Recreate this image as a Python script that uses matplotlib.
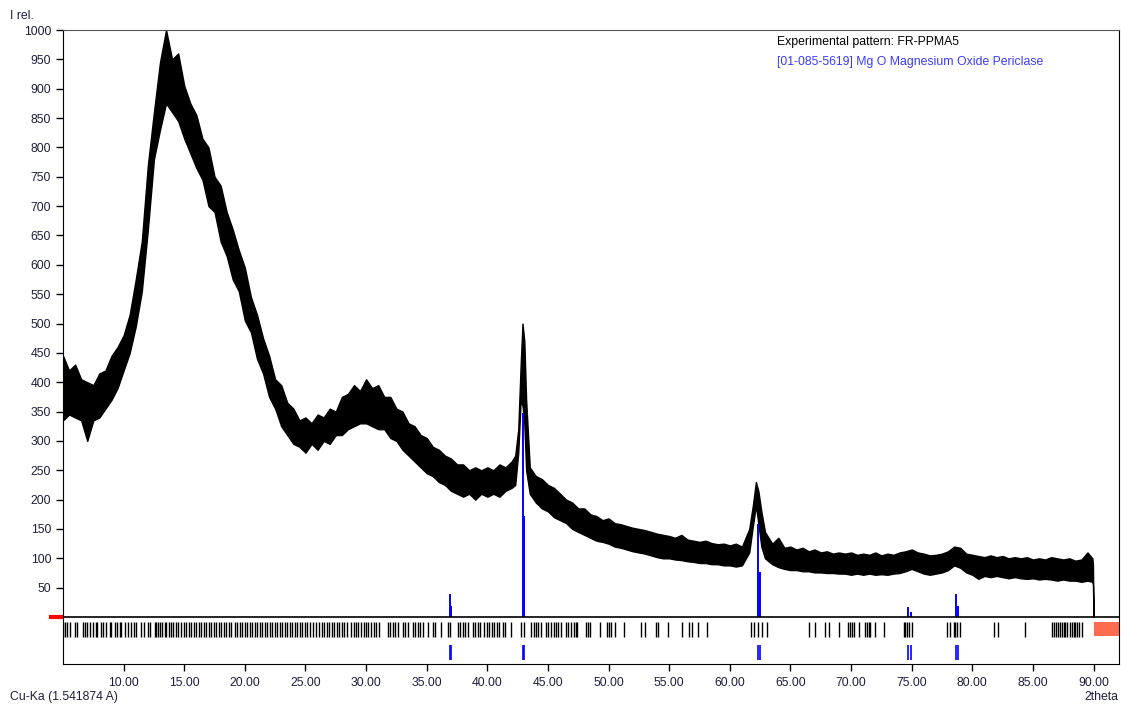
import matplotlib
matplotlib.use('Agg')
import matplotlib.pyplot as plt
from matplotlib.patches import Rectangle
from matplotlib.transforms import blended_transform_factory

two_theta = [5.0, 5.5, 6.0, 6.5, 7.0, 7.5, 8.0, 8.5, 9.0, 9.5,
             10.0, 10.5, 11.0, 11.5, 12.0, 12.5, 13.0, 13.5, 14.0, 14.5,
             15.0, 15.5, 16.0, 16.5, 17.0, 17.5, 18.0, 18.5, 19.0, 19.5,
             20.0, 20.5, 21.0, 21.5, 22.0, 22.5, 23.0, 23.5, 24.0, 24.5,
             25.0, 25.5, 26.0, 26.5, 27.0, 27.5, 28.0, 28.5, 29.0, 29.5,
             30.0, 30.5, 31.0, 31.5, 32.0, 32.5, 33.0, 33.5, 34.0, 34.5,
             35.0, 35.5, 36.0, 36.5, 37.0, 37.5, 38.0, 38.5, 39.0, 39.5,
             40.0, 40.5, 41.0, 41.5, 42.0,
             42.3, 42.55, 42.75, 42.9, 43.05, 43.2, 43.5,
             44.0, 44.5, 45.0, 45.5, 46.0, 46.5, 47.0, 47.5, 48.0, 48.5,
             49.0, 49.5, 50.0, 50.5, 51.0, 51.5, 52.0, 52.5, 53.0, 53.5,
             54.0, 54.5, 55.0, 55.5, 56.0, 56.5, 57.0, 57.5, 58.0, 58.5,
             59.0, 59.5, 60.0, 60.5, 61.0,
             61.6, 61.9, 62.15, 62.35, 62.6, 62.9,
             63.5, 64.0, 64.5, 65.0, 65.5, 66.0, 66.5, 67.0, 67.5, 68.0,
             68.5, 69.0, 69.5, 70.0, 70.5, 71.0, 71.5, 72.0, 72.5, 73.0,
             73.5, 74.0, 74.5, 75.0, 75.5, 76.0, 76.5, 77.0, 77.5, 78.0,
             78.5, 79.0, 79.5, 80.0, 80.5, 81.0, 81.5, 82.0, 82.5, 83.0,
             83.5, 84.0, 84.5, 85.0, 85.5, 86.0, 86.5, 87.0, 87.5, 88.0,
             88.5, 89.0, 89.5,
             89.9, 89.95, 90.0]
i_lower = [335, 345, 340, 335, 300, 335, 340, 355, 370, 390,
           420, 450, 495, 555, 660, 780, 830, 875, 860, 845,
           815, 790, 765, 745, 700, 690, 640, 615, 575, 555,
           505, 485, 440, 415, 375, 355, 325, 310, 295, 290,
           280, 295, 285, 300, 295, 310, 310, 320, 325, 330,
           330, 325, 320, 320, 305, 300, 285, 275, 265, 255,
           245, 240, 230, 225, 215, 210, 205, 210, 200, 210,
           205, 210, 205, 215, 220,
           225, 280, 370, 360, 330, 250, 210,
           195, 185, 180, 170, 165, 160, 150, 145, 140, 135,
           130, 128, 125, 120, 118, 115, 112, 110, 108, 105,
           102, 100, 100, 98, 97, 95, 94, 92, 92, 90,
           90, 88, 88, 86, 88,
           110, 155, 190, 160, 120, 100,
           90, 85, 82, 80, 80, 78, 78, 76, 76, 75,
           75, 74, 74, 72, 74, 72, 74, 72, 73, 72,
           74, 75, 78, 82, 78, 74, 72, 74, 76, 80,
           88, 84, 76, 72, 65, 70, 68, 70, 68, 66,
           68, 66, 65, 66, 64, 65, 64, 62, 64, 62,
           62, 60, 62,
           60, 55, 0]
i_upper = [445, 420, 430, 405, 400, 395, 415, 420, 445, 460,
           480, 515, 575, 640, 770, 860, 945, 1000, 950, 960,
           905, 875, 855, 815, 800, 750, 735, 690, 660, 625,
           595, 545, 515, 475, 445, 405, 395, 365, 355, 335,
           340, 330, 345, 340, 355, 350, 375, 380, 395, 385,
           405, 390, 395, 375, 375, 355, 350, 330, 325, 310,
           305, 290, 285, 275, 270, 260, 260, 250, 255, 250,
           255, 250, 260, 255, 265,
           275, 320, 430, 500, 470, 370, 255,
           240, 235, 225, 220, 210, 200, 195, 185, 185, 175,
           172, 165, 168, 160, 158, 155, 152, 150, 148, 145,
           142, 140, 138, 135, 140, 132, 130, 128, 130, 126,
           124, 125, 122, 125, 120,
           150, 190, 230, 215, 180, 145,
           125, 135, 118, 120, 115, 118, 112, 115, 110, 112,
           108, 110, 108, 110, 106, 108, 106, 110, 105, 108,
           106, 110, 112, 115, 110, 108, 105, 106, 108, 112,
           120, 118, 108, 106, 104, 102, 105, 102, 104, 100,
           102, 100, 102, 98, 100, 98, 102, 100, 98, 100,
           96, 98, 110,
           100, 90, 0]

# reference card [01-085-5619] MgO (Ka1 / Ka2 pairs)
mgo_pos = [36.94, 37.04, 42.92, 43.03, 62.30, 62.47, 74.69, 74.91, 78.63, 78.86]
mgo_int = [39, 19, 347, 172, 158, 77, 17, 8, 39, 19]

# stick strip of the second reference (dense at low angle)
phase_ticks = [5.00, 5.13, 5.33, 5.55, 5.96, 6.15, 6.65, 6.78, 6.98, 7.20, 7.47, 7.69, 7.80,
               8.16, 8.29, 8.51, 8.84, 8.98, 9.26, 9.45, 9.67, 9.81, 10.08, 10.36, 10.63,
               10.82, 11.04, 11.46, 11.65, 12.01, 12.14, 12.56, 12.69, 12.83, 12.97, 13.19,
               13.38, 13.52, 13.74, 13.93, 14.07, 14.29, 14.48, 14.76, 14.95, 15.17, 15.39,
               15.58, 15.77, 15.99, 16.21, 16.40, 16.60, 16.82, 17.04, 17.23, 17.42, 17.64,
               17.86, 18.05, 18.25, 18.47, 18.69, 18.88, 19.15, 19.35, 19.57, 19.79, 19.98,
               20.17, 20.39, 20.61, 20.80, 21.00, 21.21, 21.43, 21.63, 21.82, 22.04, 22.26,
               22.45, 22.64, 22.86, 23.08, 23.28, 23.47, 23.69, 23.91, 24.10, 24.29, 24.51,
               24.73, 24.93, 25.12, 25.34, 25.61, 25.89, 26.14, 26.33, 26.55, 26.77, 26.96,
               27.15, 27.37, 27.59, 27.79, 27.98, 28.20, 28.42, 28.75, 28.97, 29.16, 29.35,
               29.57, 29.79, 29.99, 30.18, 30.40, 30.62, 30.81, 31.09, 31.77, 31.99, 32.19,
               32.38, 32.60, 33.01, 33.20, 33.42, 33.83, 34.03, 34.25, 34.47, 34.66, 35.07,
               35.48, 35.68, 36.17, 36.72, 36.94, 37.55, 37.77, 37.96, 38.15, 38.37, 38.78,
               38.98, 39.20, 39.42, 39.75, 39.97, 40.16, 40.35, 40.57, 40.79, 40.98, 41.26,
               41.45, 41.94, 42.77, 42.99, 43.59, 43.81, 44.01, 44.20, 44.42, 44.83, 45.02,
               45.24, 45.46, 45.66, 45.85, 46.07, 46.48, 46.67, 46.89, 47.11, 47.30, 47.42,
               48.10, 48.27, 48.43, 49.26, 49.89, 50.03, 50.16, 50.52, 51.26, 52.64, 52.97,
               53.88, 54.10, 54.92, 56.08, 56.62, 56.85, 57.40, 58.14, 61.71, 61.98, 62.35,
               62.68, 63.09, 66.52, 67.01, 67.84, 68.17, 68.97, 69.71, 69.93, 70.07, 70.21,
               70.62, 71.17, 71.30, 71.44, 71.58, 72.00, 72.68, 74.33, 74.47, 74.60, 74.82,
               75.01, 77.90, 78.18, 78.45, 78.59, 78.72, 79.01, 81.75, 82.08, 84.37, 86.56,
               86.70, 86.92, 87.03, 87.20, 87.39, 87.53, 87.66, 87.80, 88.02, 88.21, 88.35,
               88.49, 88.62, 88.84, 89.03]

y_ticks = list(range(50, 1001, 50))
x_ticks = list(range(10, 91, 5))

FG = '#1e1e3c'
BLUE = '#0000ff'

plt.rcParams.update({
    'font.family': ['Liberation Sans', 'DejaVu Sans'],
    'font.size': 8.8,
})

fig = plt.figure(figsize=(11.21, 7.04), dpi=100)
ax = fig.add_axes([63 / 1121, 40 / 704, 1056 / 1121, 634 / 704])

ax.fill_between(two_theta, i_lower, i_upper, color='black', linewidth=1.0, edgecolor='black')

ax.vlines(mgo_pos, 0, mgo_int, color=BLUE, linewidth=1.4)
ax.vlines(mgo_pos, -73, -48, color=BLUE, linewidth=1.2)
ax.vlines(phase_ticks, -34, -8.5, color='black', linewidth=1.0)
ax.axhline(0, color='black', linewidth=1.2)
ax.add_patch(Rectangle((90.0, -32), 2.2, 23.5, color='#ff6b4f', linewidth=0))

tr = blended_transform_factory(ax.transAxes, ax.transData)
ax.plot([-0.013, 0.0], [0, 0], color='red', linewidth=3, transform=tr, clip_on=False,
        solid_capstyle='butt')

ax.set_xlim(5, 92.1)
ax.set_ylim(-80, 1000)
ax.set_xticks(x_ticks)
ax.set_xticklabels([f'{t:.2f}' for t in x_ticks])
ax.set_yticks(y_ticks)
ax.tick_params(direction='out', length=5, width=1, colors='black', labelcolor=FG, labelsize=8.8)
ax.tick_params(axis='x', pad=4)
for side in ['left', 'bottom', 'right']:
    ax.spines[side].set_color('black')
ax.spines['top'].set_color('#555555')

fig.text(10 / 1121, 1 - 16 / 704, 'I rel.', ha='left', va='center', fontsize=8.8, color=FG)
fig.text(10 / 1121, 1 - 697 / 704, 'Cu-Ka (1.541874 A)', ha='left', va='center', fontsize=8.8, color=FG)
fig.text(1118 / 1121, 1 - 697 / 704, '2theta', ha='right', va='center', fontsize=8.8, color=FG)
fig.text(777 / 1121, 1 - 42 / 704, 'Experimental pattern: FR-PPMA5', ha='left', va='center',
         fontsize=8.8, color='black')
fig.text(777 / 1121, 1 - 62 / 704, '[01-085-5619] Mg O Magnesium Oxide Periclase', ha='left',
         va='center', fontsize=8.8, color='#3a3aff')

fig.savefig('out.png')
